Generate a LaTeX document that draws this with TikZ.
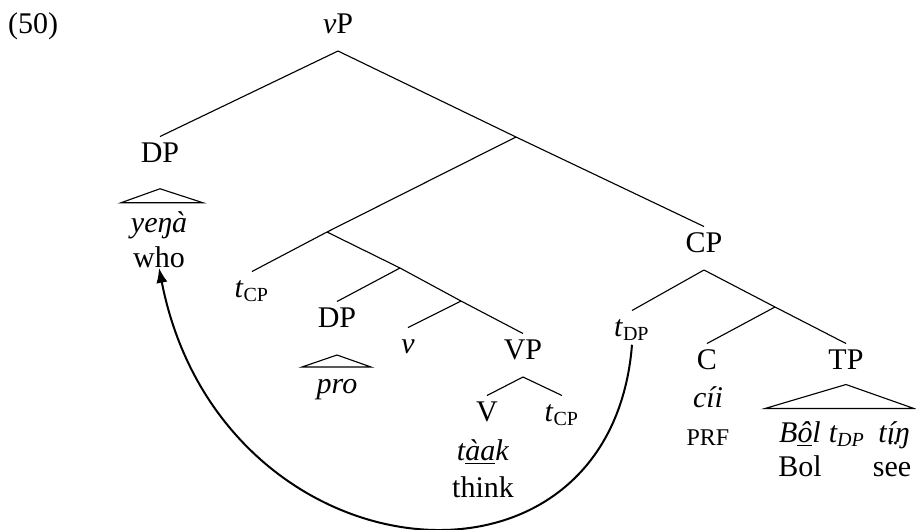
\documentclass[tikz,border=0pt,12pt]{standalone}
\usepackage{fontspec}
\setmainfont{Liberation Serif}
\usetikzlibrary{arrows.meta,positioning}
\newcommand{\subdots}[1]{\ooalign{#1\cr\hidewidth\smash{\raisebox{-0.64em}{¨}}\hidewidth\cr}}
\begin{document}
\begin{tikzpicture}[x=0.4pt,y=-0.4pt,>=Stealth,
    lab/.style={inner sep=0pt,text height=10pt,text depth=7pt,anchor=base},
    word/.style={inner sep=0pt,anchor=base},
    branch/.style={line width=0.45pt},
    move/.style={-{Latex[length=6pt,width=4.5pt]},line width=0.8pt}]
    \useasboundingbox (0,0) rectangle (916,529);

    \node[word] (ex) at (33,33) {(50)};

    \node[lab] (vP) at (338,33) {\textit{v}P};
    \node[lab] (DPa) at (160,162) {DP};
    \coordinate (X1) at (516,137);
    \node[lab] (CP) at (704,252) {CP};
    \coordinate (X2) at (327,232);
    \node[lab] (tCPa) at (252,297) {\textit{t}\textsubscript{CP}};
    \coordinate (X3) at (400,268);
    \node[lab] (DPb) at (337,327) {DP};
    \coordinate (X4) at (461,301);
    \node[lab] (v) at (408,353) {\textit{v}};
    \node[lab] (VP) at (523,359) {VP};
    \node[lab] (V) at (487,421) {V};
    \node[lab] (tCPb) at (562,421) {\textit{t}\textsubscript{CP}};
    \node[lab] (tDP) at (632,336) {\textit{t}\textsubscript{DP}};
    \coordinate (X5) at (775,307);
    \node[lab] (C) at (707,369) {C};
    \node[lab] (TP) at (846,369) {TP};

    \node[word] (yena) at (159,232) {\textit{yeŋà}};
    \node[word] (who) at (159,267) {who};
    \node[word] (pro) at (337,393) {\textit{pro}};
    \node[word] (taak) at (483,460) {\textit{t\underline{àa}k}};
    \node[word] (think) at (483,497) {think};
    \node[word] (cii) at (708,407) {\textit{cíi}};
    \node[word] (prf) at (708,445) {\fontsize{9.6}{11}\selectfont PRF};
    \node[word] (bol) at (800,442) {\textit{B\underline{ô}l}};
    \node[word] (tDPb) at (847,442) {\textit{t\textsubscript{DP}}};
    \node[word] (ting) at (894,442) {\textit{t\subdots{í}ŋ}};
    \node[word] (bolgl) at (800,476) {Bol};
    \node[word] (see) at (892,476) {see};

    \draw[branch] (vP.south) -- (DPa.north);
    \draw[branch] (vP.south) -- (X1) -- (CP.north);
    \draw[branch] (X1) -- (X2) -- (tCPa.north);
    \draw[branch] (X2) -- (X3) -- (X4) -- (VP.north);
    \draw[branch] (X3) -- (DPb.north);
    \draw[branch] (X4) -- (v.north);
    \draw[branch] (V.north) -- (VP.south) -- (tCPb.north);
    \draw[branch] (CP.south) -- (tDP.north);
    \draw[branch] (CP.south) -- (X5) -- (TP.north);
    \draw[branch] (X5) -- (C.north);

    \draw[branch] ([yshift=-3.5pt]DPa.south) -- ++(-39,14) -- ++(82,0) -- cycle;
    \draw[branch] ([yshift=-4pt]DPb.south) -- ++(-35,12) -- ++(69,0) -- cycle;
    \draw[branch] ([yshift=1pt]TP.south) -- ++(-81,24) -- ++(149,0) -- cycle;

    \draw[move] ([yshift=-3.5pt]tDP.base) .. controls (610,620) and (220,580) .. (who.south);
\end{tikzpicture}
\end{document}
